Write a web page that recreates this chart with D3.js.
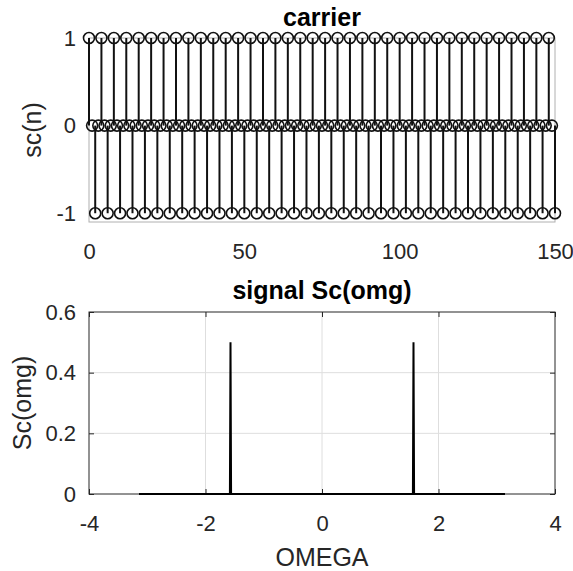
<!DOCTYPE html>
<html><head><meta charset="utf-8">
<script src="https://cdn.jsdelivr.net/npm/d3@7"></script>
<style>body{margin:0;background:#fff}</style>
</head><body><svg id="c" width="573" height="571"></svg>
<script>
// ---- data: carrier sc(n), n = 0..150 ----
const carrier = [
  1,0,-1,0, 1,0,-1,0, 1,0,-1,0, 1,0,-1,0, 1,0,-1,0, 1,0,-1,0, 1,0,-1,0, 1,0,-1,0,
  1,0,-1,0, 1,0,-1,0, 1,0,-1,0, 1,0,-1,0, 1,0,-1,0, 1,0,-1,0, 1,0,-1,0, 1,0,-1,0,
  1,0,-1,0, 1,0,-1,0, 1,0,-1,0, 1,0,-1,0, 1,0,-1,0, 1,0,-1,0, 1,0,-1,0, 1,0,-1,0,
  1,0,-1,0, 1,0,-1,0, 1,0,-1,0, 1,0,-1,0, 1,0,-1,0, 1,0,-1,0, 1,0,-1,0, 1,0,-1,0,
  1,0,-1,0, 1,0,-1,0, 1,0,-1,0, 1,0,-1,0, 1,0,-1,0,
  1,0,-1
];
const topXTicks = [0, 50, 100, 150];
const topYTicks = [-1, 0, 1];

// ---- data: spectrum Sc(omg) ----
const omega    = [-3.1416, -1.5808, -1.5708, -1.5608, 1.5608, 1.5708, 1.5808, 3.1416];
const spectrum = [0,        0,       0.5,     0,       0,      0.5,    0,      0];
const botXTicks = [-4, -2, 0, 2, 4];
const botYTicks = [0, 0.2, 0.4, 0.6];
const botYTickLabels = ["0", "0.2", "0.4", "0.6"];

const FONT = '"Liberation Sans", Arial, Helvetica, sans-serif';
const AX = "#262626";
const svg = d3.select("#c");
const fmt = d => String(d);   // plain hyphen-minus like the reference

function styleAxis(g) {
  g.attr("font-family", FONT).attr("font-size", 22);
  g.select(".domain").remove();
  g.selectAll("text").attr("fill", AX);
}

// ================= TOP: carrier =================
const L = 89, R = 555;
const xT = d3.scaleLinear([0, 150], [L, R]);
const yT = d3.scaleLinear([-1.1, 1], [222, 38]);

const gTop = svg.append("g");
gTop.append("rect")
  .attr("x", L).attr("y", yT(1)).attr("width", R - L).attr("height", yT(-1.1) - yT(1))
  .attr("fill", "none").attr("stroke", "#b0b0b0").attr("stroke-width", 1);

gTop.append("g").attr("transform", `translate(0,${yT(-1.1)})`)
  .call(d3.axisBottom(xT).tickValues(topXTicks).tickFormat(fmt).tickSizeInner(0).tickSizeOuter(0).tickPadding(21))
  .call(styleAxis);
gTop.append("g").attr("transform", `translate(${L},0)`)
  .call(d3.axisLeft(yT).tickValues(topYTicks).tickFormat(fmt).tickSizeInner(0).tickSizeOuter(0).tickPadding(13))
  .call(styleAxis);

gTop.append("g").selectAll("line").data(carrier).join("line")
  .attr("x1", (d, i) => xT(i)).attr("x2", (d, i) => xT(i))
  .attr("y1", yT(0)).attr("y2", d => yT(d))
  .attr("stroke", "#111").attr("stroke-width", 2);
gTop.append("g").selectAll("circle").data(carrier).join("circle")
  .attr("cx", (d, i) => xT(i)).attr("cy", d => yT(d)).attr("r", 5.5)
  .attr("fill", "none").attr("stroke", "#111").attr("stroke-width", 1.6);

gTop.append("text").attr("x", (L + R) / 2).attr("y", 26)
  .attr("text-anchor", "middle").attr("font-family", FONT).attr("font-size", 25)
  .attr("font-weight", "bold").attr("fill", "#000").text("carrier");
gTop.append("text").attr("transform", `translate(32,${(yT(1) + yT(-1.1)) / 2}) rotate(-90)`)
  .attr("dy", "0.35em").attr("text-anchor", "middle").attr("font-family", FONT)
  .attr("font-size", 25).attr("fill", AX).text("sc(n)");

// ================= BOTTOM: spectrum =================
const xB = d3.scaleLinear([-4, 4], [L, R]);
const yB = d3.scaleLinear([0, 0.6], [494, 312]);
const gBot = svg.append("g");

// grid
gBot.append("g").selectAll("line").data(botXTicks.slice(1, -1)).join("line")
  .attr("x1", d => xB(d)).attr("x2", d => xB(d)).attr("y1", yB(0)).attr("y2", yB(0.6))
  .attr("stroke", "#dedede").attr("stroke-width", 1);
gBot.append("g").selectAll("line").data(botYTicks.slice(1, -1)).join("line")
  .attr("x1", L).attr("x2", R).attr("y1", d => yB(d)).attr("y2", d => yB(d))
  .attr("stroke", "#dedede").attr("stroke-width", 1);

// axes with inward ticks
gBot.append("g").attr("transform", `translate(0,${yB(0)})`)
  .call(d3.axisBottom(xB).tickValues(botXTicks).tickFormat(fmt).tickSizeInner(-5).tickSizeOuter(0).tickPadding(21.5))
  .call(styleAxis).call(g => g.selectAll("line").attr("stroke", AX));
gBot.append("g").attr("transform", `translate(0,${yB(0.6)})`)
  .call(d3.axisTop(xB).tickValues(botXTicks).tickSizeInner(-5).tickSizeOuter(0).tickFormat(""))
  .call(styleAxis).call(g => g.selectAll("line").attr("stroke", AX));
gBot.append("g").attr("transform", `translate(${L},0)`)
  .call(d3.axisLeft(yB).tickValues(botYTicks).tickFormat((d, i) => botYTickLabels[i]).tickSizeInner(-5).tickSizeOuter(0).tickPadding(13))
  .call(styleAxis).call(g => g.selectAll("line").attr("stroke", AX));
gBot.append("g").attr("transform", `translate(${R},0)`)
  .call(d3.axisRight(yB).tickValues(botYTicks).tickSizeInner(-5).tickSizeOuter(0).tickFormat(""))
  .call(styleAxis).call(g => g.selectAll("line").attr("stroke", AX));

gBot.append("rect")
  .attr("x", L).attr("y", yB(0.6)).attr("width", R - L).attr("height", yB(0) - yB(0.6))
  .attr("fill", "none").attr("stroke", AX).attr("stroke-width", 1);

const line = d3.line().x((d, i) => xB(omega[i])).y(d => yB(d));
gBot.append("path").datum(spectrum).attr("d", line)
  .attr("fill", "none").attr("stroke", "#000").attr("stroke-width", 2);

gBot.append("text").attr("x", (L + R) / 2).attr("y", 299)
  .attr("text-anchor", "middle").attr("font-family", FONT).attr("font-size", 25)
  .attr("font-weight", "bold").attr("fill", "#000").text("signal Sc(omg)");
gBot.append("text").attr("x", (L + R) / 2).attr("y", 566)
  .attr("text-anchor", "middle").attr("font-family", FONT).attr("font-size", 25)
  .attr("fill", AX).text("OMEGA");
gBot.append("text").attr("transform", `translate(22,${(yB(0) + yB(0.6)) / 2}) rotate(-90)`)
  .attr("dy", "0.35em").attr("text-anchor", "middle").attr("font-family", FONT)
  .attr("font-size", 25).attr("fill", AX).text("Sc(omg)");
</script>
</body></html>
